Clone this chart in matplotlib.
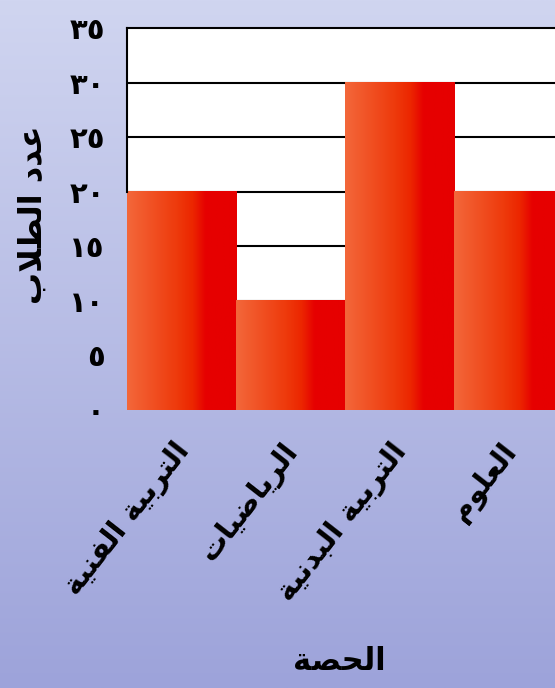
import numpy as np
import matplotlib.pyplot as plt
from matplotlib.colors import LinearSegmentedColormap
from matplotlib.transforms import ScaledTranslation

# data
subjects = ['التربية الفنية', 'الرياضيات', 'التربية البدنية', 'العلوم']
students = [20, 10, 30, 20]
yticks = [0, 5, 10, 15, 20, 25, 30, 35]
xlabel = 'الحصة'
ylabel = 'عدد الطلاب'

# matplotlib has no arabic shaping, so map letters to presentation forms
# (isolated code point; final=+1, initial=+2, medial=+3)
FORMS = {
    'ا': (0xFE8D, False), 'ب': (0xFE8F, True), 'ة': (0xFE93, False),
    'ت': (0xFE95, True), 'ح': (0xFEA1, True), 'د': (0xFEA9, False),
    'ر': (0xFEAD, False), 'ص': (0xFEB9, True), 'ض': (0xFEBD, True),
    'ط': (0xFEC1, True), 'ع': (0xFEC9, True), 'ف': (0xFED1, True),
    'ل': (0xFEDD, True), 'م': (0xFEE1, True), 'ن': (0xFEE5, True),
    'و': (0xFEED, False), 'ي': (0xFEF1, True),
}


def shape(text):
    out = []
    i = 0
    while i < len(text):
        ch = text[i]
        if ch not in FORMS:
            out.append(ch)
            i += 1
            continue
        prev = text[i - 1] if i > 0 else ' '
        prev_joins = prev in FORMS and FORMS[prev][1]
        if ch == 'ل' and i + 1 < len(text) and text[i + 1] == 'ا':
            out.append(chr(0xFEFC if prev_joins else 0xFEFB))
            i += 2
            continue
        nxt = text[i + 1] if i + 1 < len(text) else ' '
        base, dual = FORMS[ch]
        next_joins = dual and nxt in FORMS
        if prev_joins and next_joins:
            code = base + 3
        elif prev_joins:
            code = base + 1
        elif next_joins:
            code = base + 2
        else:
            code = base
        out.append(chr(code))
        i += 1
    return ''.join(out)[::-1]


def arabic_digits(n):
    return ''.join(chr(0x0660 + int(d)) for d in str(n))


plt.rcParams['font.family'] = 'DejaVu Sans'
plt.rcParams['font.weight'] = 'bold'

fig = plt.figure(figsize=(5.55, 6.88), dpi=100)

# background gradient
bg = fig.add_axes([0, 0, 1, 1], zorder=-10)
bg_cmap = LinearSegmentedColormap.from_list('bg', ['#D0D5F0', '#9DA3DA'])
bg.imshow(np.linspace(0, 1, 256).reshape(-1, 1), aspect='auto', cmap=bg_cmap,
          extent=[0, 1, 0, 1])
bg.axis('off')

ax = fig.add_axes([0.2288, 0.4041, 0.7856, 0.5552])
ax.set_facecolor('white')
x = np.arange(len(subjects))

for v in yticks[1:-1]:
    ax.axhline(v, color='black', lw=1.5, zorder=1)

bars = ax.bar(x, students, width=1.0, color='none', zorder=2)
bar_cmap = LinearSegmentedColormap.from_list(
    'bar', [(0, '#F3673A'), (0.45, '#EE3A0C'), (0.6, '#EC2600'), (0.72, '#E60000'), (1, '#E60000')])
grad = np.linspace(0, 1, 128).reshape(1, -1)
for b in bars:
    x0, y0 = b.get_x(), b.get_y()
    ax.imshow(grad, cmap=bar_cmap, aspect='auto', zorder=2,
              extent=[x0, x0 + b.get_width(), y0, y0 + b.get_height()])
ax.set_xlim(-0.5, len(subjects) - 0.5)
ax.set_ylim(0, 35)

for s in ['right', 'bottom']:
    ax.spines[s].set_visible(False)
ax.spines['top'].set_linewidth(1.5)
ax.spines['left'].set_linewidth(1.5)
# the first bar hides the lower part of the left border
ax.spines['left'].set_bounds(students[0], yticks[-1])

ax.set_yticks(yticks)
ax.set_yticklabels([arabic_digits(v) for v in yticks], fontsize=21, fontweight='bold')
ax.tick_params(axis='y', length=0, pad=16)
ax.set_xticks(x)
ax.set_xticklabels([shape(s) for s in subjects], rotation=52, ha='right',
                   fontsize=21, fontweight='bold')
ax.tick_params(axis='x', length=0, pad=20)
shift = ScaledTranslation(14 / 100, 0, fig.dpi_scale_trans)
for lbl in ax.get_xticklabels():
    lbl.set_transform(lbl.get_transform() + shift)

ax.set_xlabel(shape(xlabel), fontsize=22, fontweight='bold')
ax.xaxis.set_label_coords(0.486, -0.62)
ax.set_ylabel(shape(ylabel), fontsize=23, fontweight='bold')
ax.yaxis.set_label_coords(-0.18, 0.51)

plt.savefig('out.png', dpi=100)
